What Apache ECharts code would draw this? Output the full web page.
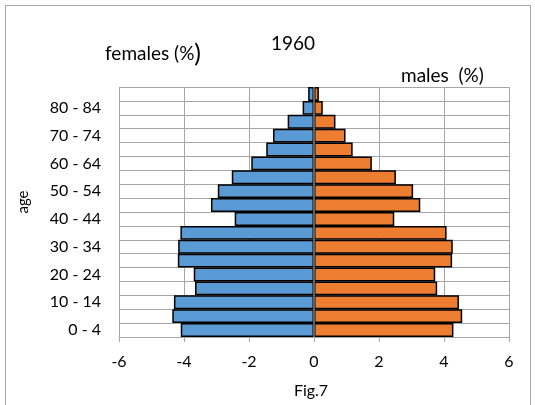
<!DOCTYPE html>
<html>
<head>
<meta charset="utf-8">
<script src="https://cdn.jsdelivr.net/npm/echarts@6/dist/echarts.min.js"></script>
<style>
html,body{margin:0;padding:0;background:#fff;}
#c{width:535px;height:405px;}
</style>
</head>
<body>
<div id="c"></div>
<script>
var ageGroups = ['0 - 4','5 - 9','10 - 14','15 - 19','20 - 24','25 - 29','30 - 34','35 - 39','40 - 44','45 - 49','50 - 54','55 - 59','60 - 64','65 - 69','70 - 74','75 - 79','80 - 84','85+'];
var females = [-4.10,-4.36,-4.31,-3.66,-3.70,-4.19,-4.18,-4.11,-2.44,-3.17,-2.96,-2.53,-1.93,-1.47,-1.26,-0.81,-0.35,-0.18];
var males = [4.29,4.56,4.46,3.79,3.73,4.25,4.27,4.08,2.47,3.27,3.05,2.52,1.78,1.19,0.97,0.66,0.27,0.15];
var xTicks = [-6,-4,-2,0,2,4,6];

var FONT = 'Lato, "Liberation Sans", sans-serif';
var chart = echarts.init(document.getElementById('c'), null, {renderer:'canvas'});
chart.setOption({
  animation:false,
  backgroundColor:'#fff',
  grid:{left:119,right:26,top:87,bottom:68,containLabel:false},
  xAxis:{
    type:'value', min:xTicks[0], max:xTicks[xTicks.length-1], interval:2,
    axisLine:{show:true,lineStyle:{color:'#a6a6a6',width:1}},
    axisTick:{show:true,length:5,lineStyle:{color:'#a6a6a6'}},
    axisLabel:{color:'#000',fontSize:16,fontFamily:FONT,margin:17},
    splitLine:{show:true,lineStyle:{color:'#a6a6a6',width:1}}
  },
  yAxis:{
    type:'category', data:ageGroups, boundaryGap:true,
    axisLine:{show:false},
    axisTick:{show:false},
    axisLabel:{interval:1,color:'#000',fontSize:16,fontFamily:FONT,margin:18},
    splitLine:{show:true,interval:0,lineStyle:{color:'#a6a6a6',width:1}}
  },
  series:[
    {type:'bar',name:'females',data:females,barGap:'-100%',barCategoryGap:'0%',
     itemStyle:{color:'#5B9BD5',borderColor:'#000',borderWidth:1.5},
     markLine:{silent:true,symbol:'none',label:{show:false},
       lineStyle:{color:'#808080',width:1.5,type:'solid'},data:[{xAxis:0}]}},
    {type:'bar',name:'males',data:males,barGap:'-100%',barCategoryGap:'0%',
     itemStyle:{color:'#ED7D31',borderColor:'#000',borderWidth:1.5}}
  ],
  graphic:[
    {type:'rect',shape:{x:5.5,y:5.5,width:525,height:410},style:{fill:'none',stroke:'#a6a6a6',lineWidth:1},silent:true},
    {type:'text',x:293,y:44,style:{text:'1960',font:'19px '+FONT,fill:'#000',textAlign:'center',textVerticalAlign:'middle'}},
    {type:'text',x:105,y:54,style:{text:'females (%{b|)}',font:'19px '+FONT,fill:'#000',textAlign:'left',textVerticalAlign:'middle',
      rich:{b:{fontSize:25,fontFamily:FONT,fill:'#000'}}}},
    {type:'text',x:401,y:76,style:{text:'males  (%)',font:'19px '+FONT,fill:'#000',textAlign:'left',textVerticalAlign:'middle'}},
    {type:'text',x:23,y:202,rotation:Math.PI/2,style:{text:'age',font:'15px '+FONT,fill:'#000',textAlign:'center',textVerticalAlign:'middle'}},
    {type:'text',x:311,y:391,style:{text:'Fig.7',font:'16px '+FONT,fill:'#000',textAlign:'center',textVerticalAlign:'middle'}}
  ]
});
</script>
</body>
</html>
